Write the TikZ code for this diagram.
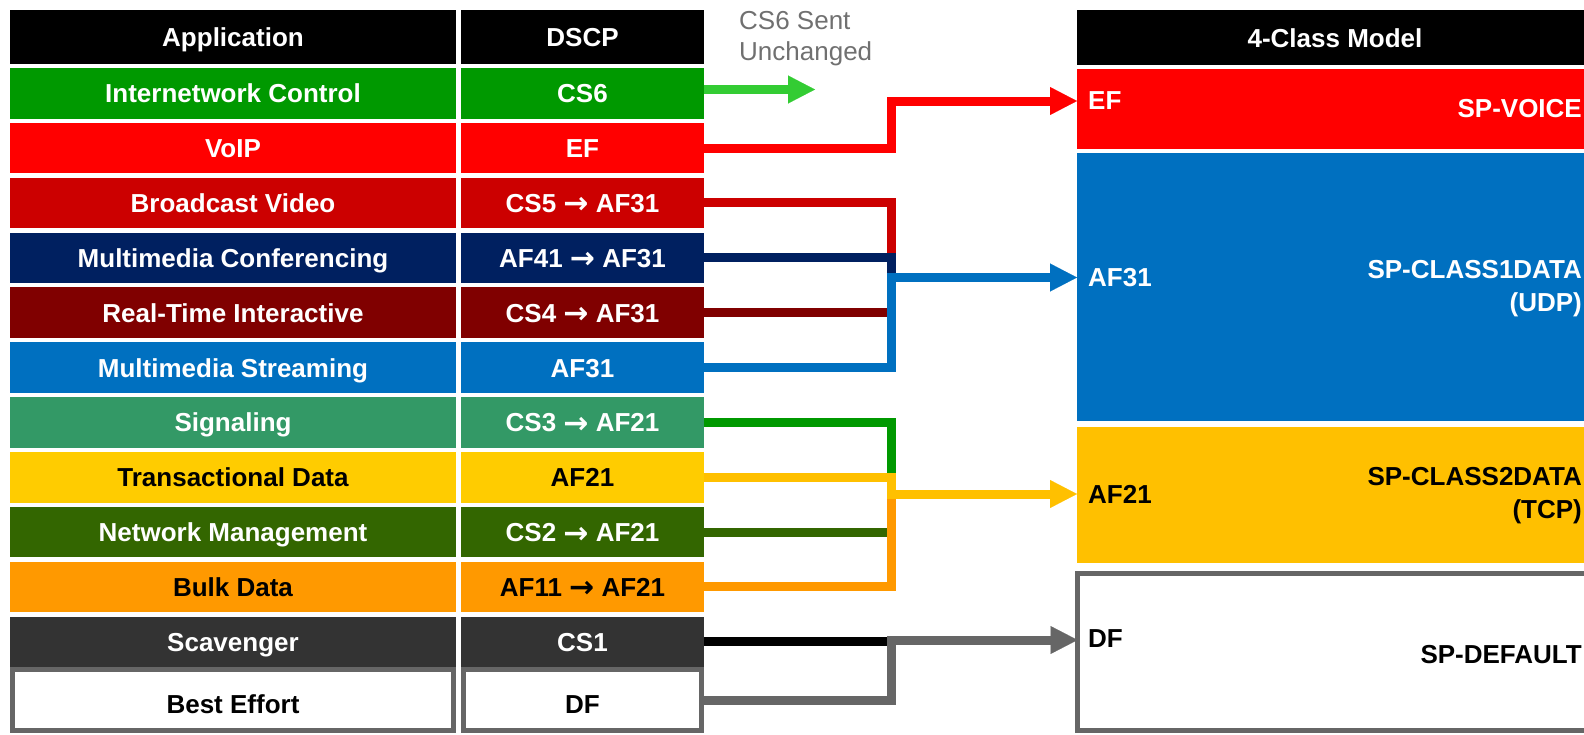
\documentclass[tikz,border=0pt]{standalone}
\usepackage{fontspec}
\setmainfont{Liberation Sans}
\newfontfamily\arrowfont{DejaVu Sans}
\usetikzlibrary{arrows.meta}

\definecolor{qosGreen}{HTML}{009900}
\definecolor{qosLime}{HTML}{33CC33}
\definecolor{qosRed}{HTML}{FF0000}
\definecolor{qosBcast}{HTML}{CC0000}
\definecolor{qosNavy}{HTML}{002060}
\definecolor{qosMaroon}{HTML}{800000}
\definecolor{qosBlue}{HTML}{0070C0}
\definecolor{qosSignal}{HTML}{339966}
\definecolor{qosGold}{HTML}{FFCC00}
\definecolor{qosAmber}{HTML}{FFC000}
\definecolor{qosNetMgmt}{HTML}{336600}
\definecolor{qosOrange}{HTML}{FF9900}
\definecolor{qosCharcoal}{HTML}{333333}
\definecolor{qosGray}{HTML}{666666}
\definecolor{qosNote}{HTML}{707070}

% remark arrow between old and new DSCP
\newcommand{\remark}{{\arrowfont\fontsize{30}{33}\selectfont\raisebox{-1.5pt}{→}}}

\begin{document}
\begin{tikzpicture}[x=1pt, y=-1pt,
  cell/.style={rectangle, anchor=north west, inner sep=0pt, outer sep=0pt,
    minimum height=50.5pt, text height=19pt, text depth=0pt,
    font=\fontsize{26}{33}\selectfont\bfseries, text=white},
  appcell/.style={cell, minimum width=446pt},
  dscpcell/.style={cell, minimum width=243pt},
  headcell/.style={cell, fill=black, minimum height=54pt},
  plaincell/.style={fill=white, draw=qosGray, line width=5pt, text=black,
    minimum height=61pt, text height=27pt},
  classbox/.style={rectangle, anchor=north west, inner sep=0pt, outer sep=0pt, minimum width=516pt},
  classlbl/.style={inner sep=0pt, font=\fontsize{26}{33}\selectfont\bfseries, align=right},
  flow/.style={line width=9pt},
  flowto/.style={flow, -{Triangle[length=27pt, width=28pt, line width=0.1pt]}}]
% page frame, 1pt per pixel
\useasboundingbox (0,0) rectangle (1584,734);
\clip (0,0) rectangle (1584,734);

% Left table: header
\node[headcell, minimum width=446pt] (apphead) at (10,10) {Application};
\node[headcell, minimum width=243pt] (dscphead) at (461,10) {DSCP};

% Left table: rows
\node[appcell, fill=qosGreen] (app1) at (10,68) {Internetwork Control};
\node[dscpcell, fill=qosGreen] (dscp1) at (461,68) {CS6};
\node[appcell, fill=qosRed] (app2) at (10,122.9) {VoIP};
\node[dscpcell, fill=qosRed] (dscp2) at (461,122.9) {EF};
\node[appcell, fill=qosBcast] (app3) at (10,177.7) {Broadcast Video};
\node[dscpcell, fill=qosBcast] (dscp3) at (461,177.7) {CS5 \remark{} AF31};
\node[appcell, fill=qosNavy] (app4) at (10,232.6) {Multimedia Conferencing};
\node[dscpcell, fill=qosNavy] (dscp4) at (461,232.6) {AF41 \remark{} AF31};
\node[appcell, fill=qosMaroon] (app5) at (10,287.4) {Real-Time Interactive};
\node[dscpcell, fill=qosMaroon] (dscp5) at (461,287.4) {CS4 \remark{} AF31};
\node[appcell, fill=qosBlue] (app6) at (10,342.3) {Multimedia Streaming};
\node[dscpcell, fill=qosBlue] (dscp6) at (461,342.3) {AF31};
\node[appcell, fill=qosSignal] (app7) at (10,397.1) {Signaling};
\node[dscpcell, fill=qosSignal] (dscp7) at (461,397.1) {CS3 \remark{} AF21};
\node[appcell, fill=qosGold, text=black] (app8) at (10,452) {Transactional Data};
\node[dscpcell, fill=qosGold, text=black] (dscp8) at (461,452) {AF21};
\node[appcell, fill=qosNetMgmt] (app9) at (10,506.8) {Network Management};
\node[dscpcell, fill=qosNetMgmt] (dscp9) at (461,506.8) {CS2 \remark{} AF21};
\node[appcell, fill=qosOrange, text=black] (app10) at (10,561.7) {Bulk Data};
\node[dscpcell, fill=qosOrange, text=black] (dscp10) at (461,561.7) {AF11 \remark{} AF21};
\node[appcell, fill=qosCharcoal] (app11) at (10,616.5) {Scavenger};
\node[dscpcell, fill=qosCharcoal] (dscp11) at (461,616.5) {CS1};
\node[appcell, plaincell, minimum width=441pt] (app12) at (12.5,669.5) {Best Effort};
\node[dscpcell, plaincell, minimum width=238pt] (dscp12) at (463.5,669.5) {DF};

% Right table: 4-class model
\node[classbox, fill=black, minimum height=55pt, text=white, text height=19pt, text depth=0pt,
  font=\fontsize{26}{33}\selectfont\bfseries] (classhead) at (1077,10) {4-Class Model};
\node[classbox, fill=qosRed, minimum height=80pt] (ef) at (1077,69) {};
\node[classbox, fill=qosBlue, minimum height=268pt] (af31) at (1077,153) {};
\node[classbox, fill=qosAmber, minimum height=136pt] (af21) at (1077,427) {};
\node[classbox, draw=qosGray, line width=5pt, minimum width=520pt,
  minimum height=157pt] (df) at (1077.5,573.5) {};

% Class labels
\node[classlbl, text=white, anchor=west] (eflbl) at (1088,101) {EF};
\node[classlbl, text=white, anchor=east] (efname) at (1582,109) {SP-VOICE};
\node[classlbl, text=white, anchor=west] (af31lbl) at (1088,277.5) {AF31};
\node[classlbl, text=white, anchor=east] (af31name) at (1582,289) {SP-CLASS1DATA\\(UDP)};
\node[classlbl, text=black, anchor=west] (af21lbl) at (1088,494) {AF21};
\node[classlbl, text=black, anchor=east] (af21name) at (1582,496) {SP-CLASS2DATA\\(TCP)};
\node[classlbl, text=black, anchor=west] (dflbl) at (1088,639) {DF};
\node[classlbl, text=black, anchor=east] (dfname) at (1582,655) {SP-DEFAULT};

% CS6 passes through
\node[inner sep=0pt, anchor=north west, align=left, text=qosNote,
  font=\fontsize{26}{31}\selectfont] (cs6note) at (739,11) {CS6 Sent\\Unchanged};
\coordinate (cs6end) at (815,89.5);
\draw[flowto, qosLime] (dscp1.east |- cs6end) -- (cs6end);

% EF
\coordinate (jef) at (891,101);
\draw[flowto, qosRed] (dscp2.east) -| (jef) -- (jef -| ef.west);

% AF31 group
\coordinate (jaf31) at (891,277.5);
\draw[flow, qosBcast] (dscp3.east) -| (jaf31);
\draw[flow, qosNavy] (dscp4.east) -| (jaf31);
\draw[flow, qosMaroon] (dscp5.east) -- (dscp5.east -| jaf31);
\draw[flowto, qosBlue] (dscp6.east) -| (jaf31) -- (jaf31 -| af31.west);

% AF21 group
\coordinate (jaf21) at (891,494);
\draw[flow, qosGreen] (dscp7.east) -| (jaf21);
\draw[flow, qosNetMgmt] (dscp9.east) -- (dscp9.east -| jaf21);
\draw[flow, qosOrange] (dscp10.east) -| (jaf21);
\draw[flowto, qosAmber] (dscp8.east) -| (jaf21) -- (jaf21 -| af21.west);

% DF group
\coordinate (jdf) at (891,640);
\draw[flow, black] (dscp11.east) -- (dscp11.east -| jdf);
\draw[flowto, qosGray] (dscp12.east) -| (jdf) -- (jdf -| df.west);
\end{tikzpicture}
\end{document}
